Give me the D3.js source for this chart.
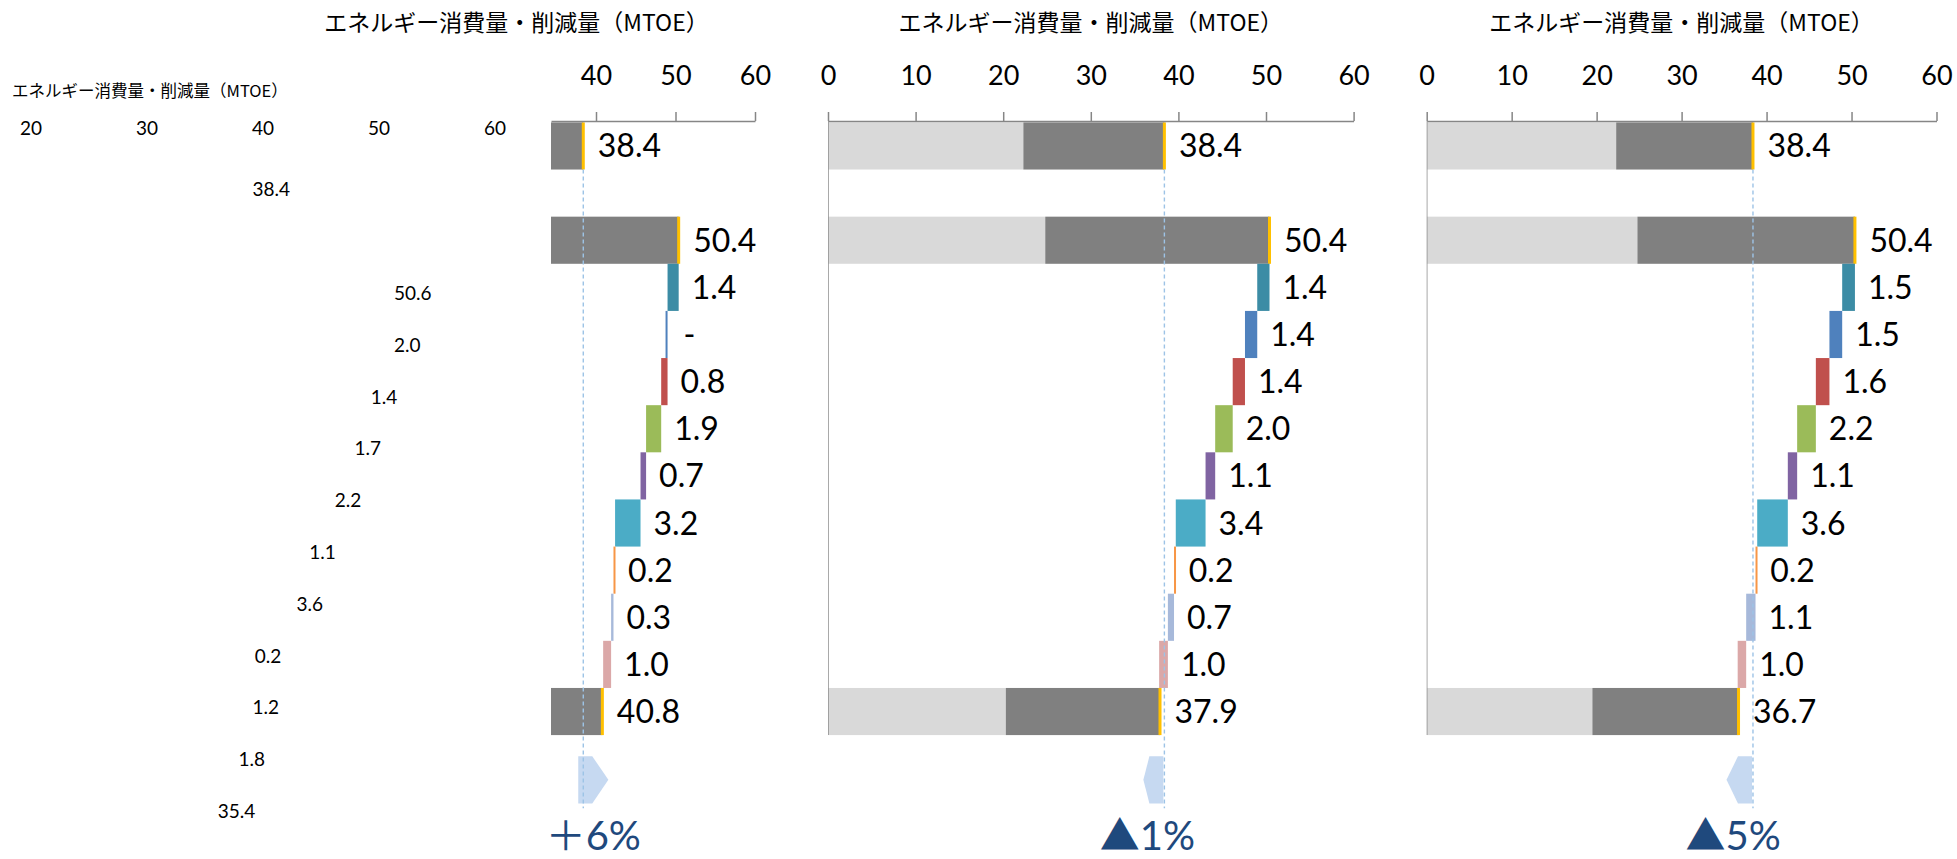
<!DOCTYPE html>
<meta charset="utf-8">
<style>
body { margin: 0; background: #fff; }
svg { display: block; }
.title { font: 23px "Noto Sans CJK JP", sans-serif; fill: #000; }
.axis text { font: 27px Lato, "Noto Sans", sans-serif; fill: #000; }
.axis path, .axis line { stroke: #868686; stroke-width: 1.5; }
.val { font: 32px Lato, "Noto Sans", sans-serif; fill: #000; }
.stray { font: 19px Lato, "Noto Sans CJK JP", sans-serif; fill: #000; }
.stray-title { font: 16.5px "Noto Sans CJK JP", sans-serif; fill: #000; }
.change { font: 40px Lato, "Noto Sans CJK JP", sans-serif; fill: #1F497D; }
</style>
<body>
<script src="https://d3js.org/d3.v7.min.js"></script>
<script>

// colours of the 9 reduction measures (same order in every panel)
const measureColors = ["#3C8CA5", "#4F81BD", "#C0504D", "#9BBB59", "#8064A2",
                       "#4BACC6", "#F79646", "#A7B9DA", "#DBA8A8"];

const titleText = "エネルギー消費量・削減量（MTOE）";
const fullTicks = [0, 10, 20, 30, 40, 50, 60];

// panel 1 (axis only shown from ~34)
const p1Ticks = [40, 50, 60];
const p1Totals = [38.4, 50.4, 40.8];          // base year, BAU, result
const p1Light = [22.3, 24.8, 20.3];           // light part of the totals (clipped away)
const p1Cuts = [1.4, 0, 0.8, 1.9, 0.7, 3.2, 0.2, 0.3, 1.0];
const p1Change = "＋6%";

// panel 2
const p2Totals = [38.4, 50.4, 37.9];
const p2Light = [22.3, 24.8, 20.3];
const p2Cuts = [1.4, 1.4, 1.4, 2.0, 1.1, 3.4, 0.2, 0.7, 1.0];
const p2Change = "▲1%";

// panel 3
const p3Totals = [38.4, 50.4, 36.7];
const p3Light = [22.3, 24.8, 19.5];
const p3Cuts = [1.5, 1.5, 1.6, 2.2, 1.1, 3.6, 0.2, 1.1, 1.0];
const p3Change = "▲5%";

// leftover labels of a hidden fourth chart at the far left
const strayTicks = [20, 30, 40, 50, 60];
const strayTotals = [38.4, 50.6, 35.4];
const strayCuts = [2.0, 1.4, 1.7, 2.2, 1.1, 3.6, 0.2, 1.2, 1.8];

const width = 1957, height = 859;
const axisY = 121;
const fmt = d3.format(".1f");

const svg = d3.select("body").append("svg")
    .attr("width", width)
    .attr("height", height);

// row index -> y (rows touch each other, row 1 is empty)
const yRow = d3.scaleLinear().domain([0, 1]).range([122.4, 169.53]);

const panels = [
  {totals: p1Totals, light: p1Light, cuts: p1Cuts, change: p1Change, ticks: p1Ticks, range: [278, 755], from: 34.34},
  {totals: p2Totals, light: p2Light, cuts: p2Cuts, change: p2Change, ticks: fullTicks, range: [828, 1353.6], from: 0},
  {totals: p3Totals, light: p3Light, cuts: p3Cuts, change: p3Change, ticks: fullTicks, range: [1426.7, 1936.5], from: 0}
];

function rowsOf(p) {
  const rows = [];
  rows.push({row: 0, total: true, light: p.light[0], value: p.totals[0], to: p.totals[0]});
  rows.push({row: 2, total: true, light: p.light[1], value: p.totals[1], to: p.totals[1]});
  let cum = p.totals[1];
  p.cuts.forEach((c, i) => {
    rows.push({row: 3 + i, total: false, color: measureColors[i], value: c, from: cum - c, to: cum});
    cum -= c;
  });
  rows.push({row: 12, total: true, light: p.light[2], value: p.totals[2], to: p.totals[2]});
  return rows;
}

panels.forEach((p, pi) => {
  const x = d3.scaleLinear().domain([0, 60]).range(p.range);
  const left = x(p.from);
  const rows = rowsOf(p);
  const bandH = yRow(1) - yRow(0);

  // clip so panel 1 starts at its visible axis start
  svg.append("clipPath").attr("id", "clip" + pi)
    .append("rect")
      .attr("x", left).attr("y", 0)
      .attr("width", x(60) - left + 200).attr("height", height);

  const plot = svg.append("g").attr("clip-path", `url(#clip${pi})`);

  // totals: light + dark parts
  const totals = rows.filter(d => d.total);
  plot.selectAll(".light").data(totals).enter().append("rect")
      .attr("x", x(0))
      .attr("y", d => yRow(d.row))
      .attr("width", d => x(d.light) - x(0))
      .attr("height", bandH)
      .attr("fill", "#D9D9D9");
  plot.selectAll(".dark").data(totals).enter().append("rect")
      .attr("x", d => x(d.light))
      .attr("y", d => yRow(d.row))
      .attr("width", d => x(d.to) - x(d.light))
      .attr("height", bandH)
      .attr("fill", "#808080");
  plot.selectAll(".cap").data(totals).enter().append("rect")
      .attr("x", d => x(d.to) - 1.5)
      .attr("y", d => yRow(d.row))
      .attr("width", 3)
      .attr("height", bandH)
      .attr("fill", "#FFC000");

  // reduction steps
  plot.selectAll(".cut").data(rows.filter(d => !d.total)).enter().append("rect")
      .attr("x", d => d.value > 0 ? x(d.from) : x(d.to) - 2)
      .attr("y", d => yRow(d.row))
      .attr("width", d => Math.max(2, x(d.to) - x(d.from)))
      .attr("height", bandH)
      .attr("fill", d => d.color);

  // vertical category axis at 0
  plot.append("line")
      .attr("x1", x(0)).attr("x2", x(0))
      .attr("y1", axisY).attr("y2", yRow(13))
      .attr("stroke", "#8C8C8C").attr("stroke-width", 1.5);

  // value labels
  svg.selectAll(".val" + pi).data(rows).enter().append("text")
      .attr("class", "val")
      .attr("x", d => (d.total ? x(d.to) + 1.5 : x(d.to)) + (d.value === 0 ? 16 : 13))
      .attr("y", d => yRow(d.row + 0.5))
      .attr("dy", "0.36em")
      .text(d => d.value === 0 ? "-" : fmt(d.value));

  // top axis
  const axisScale = x.copy().domain([p.from, 60]).range([left, x(60)]);
  svg.append("g")
      .attr("class", "axis")
      .attr("transform", `translate(0,${axisY})`)
      .call(d3.axisTop(axisScale).tickValues(p.ticks).tickSizeInner(9).tickSizeOuter(0).tickPadding(27).tickFormat(d3.format("d")));

  // title
  svg.append("text")
      .attr("class", "title")
      .attr("x", (x(0) + x(60)) / 2)
      .attr("y", 31)
      .attr("text-anchor", "middle")
      .text(titleText);

  // change arrow next to the base-year reference line
  const base = p.totals[0], result = p.totals[2];
  const dir = result > base ? 1 : -1;
  const start = x(base) - (dir > 0 ? 5 : 1);
  const len = Math.max(Math.abs(x(result) - x(base)) + 11, 20);
  const end = start + dir * len;
  const tip = len - 14;
  const ya = yRow(13.45), yb = yRow(14.45), ym = (ya + yb) / 2;

  svg.append("path")
      .attr("d", `M${start},${ya} L${end - dir * tip},${ya} L${end},${ym} L${end - dir * tip},${yb} L${start},${yb} Z`)
      .attr("fill", "#C6D9F1");

  svg.append("line")
      .attr("x1", x(base)).attr("x2", x(base))
      .attr("y1", yRow(1)).attr("y2", yRow(14.55))
      .attr("stroke", "#9DC3E6")
      .attr("stroke-width", 1.4)
      .attr("stroke-dasharray", "4,3");

  svg.append("text")
      .attr("class", "change")
      .attr("x", (start + end) / 2 - (dir > 0 ? 0 : 6))
      .attr("y", yRow(15.43))
      .attr("text-anchor", "middle")
      .text(p.change);
});

// stray labels of the hidden chart
const xs = d3.scaleLinear().domain([20, 60]).range([31, 495]);
const ys = d3.scaleLinear().domain([0, 1]).range([189.7, 241.5]);

svg.append("text")
    .attr("class", "stray-title")
    .attr("x", 12)
    .attr("y", 91)
    .attr("dy", "0.35em")
    .text(titleText);

svg.selectAll(".stick").data(strayTicks).enter().append("text")
    .attr("class", "stray")
    .attr("x", d => xs(d))
    .attr("y", 128.6)
    .attr("dy", "0.35em")
    .attr("text-anchor", "middle")
    .text(d => d);

const strayRows = [{row: 0, v: strayTotals[0], at: strayTotals[0]},
                   {row: 2, v: strayTotals[1], at: strayTotals[1]}];
let sc = strayTotals[1];
strayCuts.forEach((c, i) => { strayRows.push({row: 3 + i, v: c, at: sc}); sc -= c; });
strayRows.push({row: 12, v: strayTotals[2], at: strayTotals[2]});

svg.selectAll(".sval").data(strayRows).enter().append("text")
    .attr("class", "stray")
    .attr("x", d => xs(d.at) + 8)
    .attr("y", d => ys(d.row))
    .attr("dy", "0.35em")
    .text(d => fmt(d.v));

</script>
</body>
